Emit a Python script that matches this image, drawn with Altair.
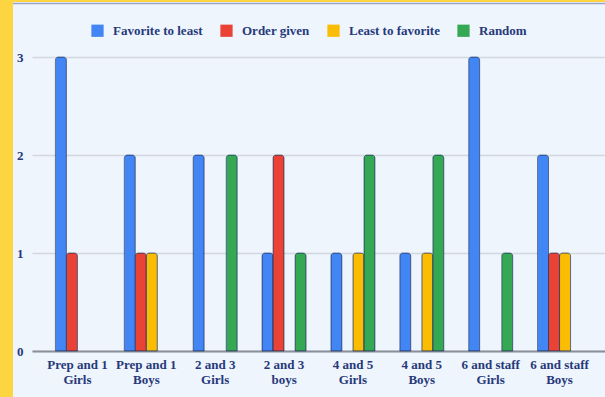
import altair as alt
import pandas as pd

categories = ["Prep and 1 Girls", "Prep and 1 Boys", "2 and 3 Girls", "2 and 3 boys",
              "4 and 5 Girls", "4 and 5 Boys", "6 and staff Girls", "6 and staff Boys"]
series = ["Favorite to least", "Order given", "Least to favorite", "Random"]
favorite_to_least = [3, 2, 2, 1, 1, 1, 3, 2]
order_given = [1, 1, 0, 2, 0, 0, 0, 1]
least_to_favorite = [0, 1, 0, 0, 1, 1, 0, 1]
random_order = [0, 0, 2, 1, 2, 2, 1, 0]
colors = ["#4285f4", "#ea4335", "#fbbc04", "#34a853"]

rows = []
for s, vals in zip(series, [favorite_to_least, order_given, least_to_favorite, random_order]):
    for c, v in zip(categories, vals):
        rows.append({"group": c, "series": s, "value": v})
df = pd.DataFrame(rows)

FONT = "Liberation Serif"
TXT = "#27397a"

bars = alt.Chart(df).transform_filter("datum.value > 0").mark_bar(
    stroke="#1f2f5c", strokeWidth=1, strokeOpacity=0.55,
    cornerRadiusTopLeft=3, cornerRadiusTopRight=3
).encode(
    x=alt.X("group:N", sort=categories, title=None,
            scale=alt.Scale(paddingInner=0.36, paddingOuter=0.34),
            axis=alt.Axis(labelAngle=0, ticks=False, labelPadding=7, domainColor="#8a8f99",
                          domainWidth=2, labelFont=FONT, labelFontWeight="bold", labelFontSize=13,
                          labelColor=TXT, labelLineHeight=15,
                          labelExpr="[slice(datum.label, 0, lastindexof(datum.label, ' ')), slice(datum.label, lastindexof(datum.label, ' ') + 1)]")),
    xOffset=alt.XOffset("series:N", sort=series, scale=alt.Scale(domain=series, paddingInner=0)),
    y=alt.Y("value:Q", title=None, scale=alt.Scale(domain=[0, 3]),
            axis=alt.Axis(values=[0, 1, 2, 3], format="d", ticks=False, domain=False, labelPadding=9,
                          gridColor="#d3d8df", gridWidth=1.5, labelFont=FONT, labelFontWeight="bold",
                          labelFontSize=13, labelColor=TXT)),
    color=alt.Color("series:N", sort=series, scale=alt.Scale(domain=series, range=colors),
                    legend=alt.Legend(title=None, orient="none", direction="horizontal",
                                      legendX=59, legendY=-33, symbolType="square", symbolSize=150,
                                      symbolStrokeWidth=0, labelFont=FONT, labelFontWeight="bold",
                                      labelFontSize=13, labelColor=TXT, labelOffset=9,
                                      columnPadding=17))
)

one = pd.DataFrame({"a": [0]})
left_strip = alt.Chart(one).mark_rect(color="#fdd540").encode(
    x=alt.value(-32), x2=alt.value(-19), y=alt.value(-57), y2=alt.value(340))
top_strip = alt.Chart(one).mark_rect(color="#fdd540").encode(
    x=alt.value(-32), x2=alt.value(573), y=alt.value(-57), y2=alt.value(-55))
top_line = alt.Chart(one).mark_rule(color="#9aa6c2", strokeWidth=1.5).encode(
    x=alt.value(-19), x2=alt.value(573), y=alt.value(-53.5))

chart = alt.layer(bars, left_strip, top_strip, top_line).properties(
    width=573, height=294,
    autosize=alt.AutoSizeParams(type="none"),
    padding={"left": 32, "top": 57, "right": 0, "bottom": 46},
    background="#eef5fd"
).configure_view(stroke=None)

chart.save("out.html", embed_options={"renderer": "svg", "actions": False})
